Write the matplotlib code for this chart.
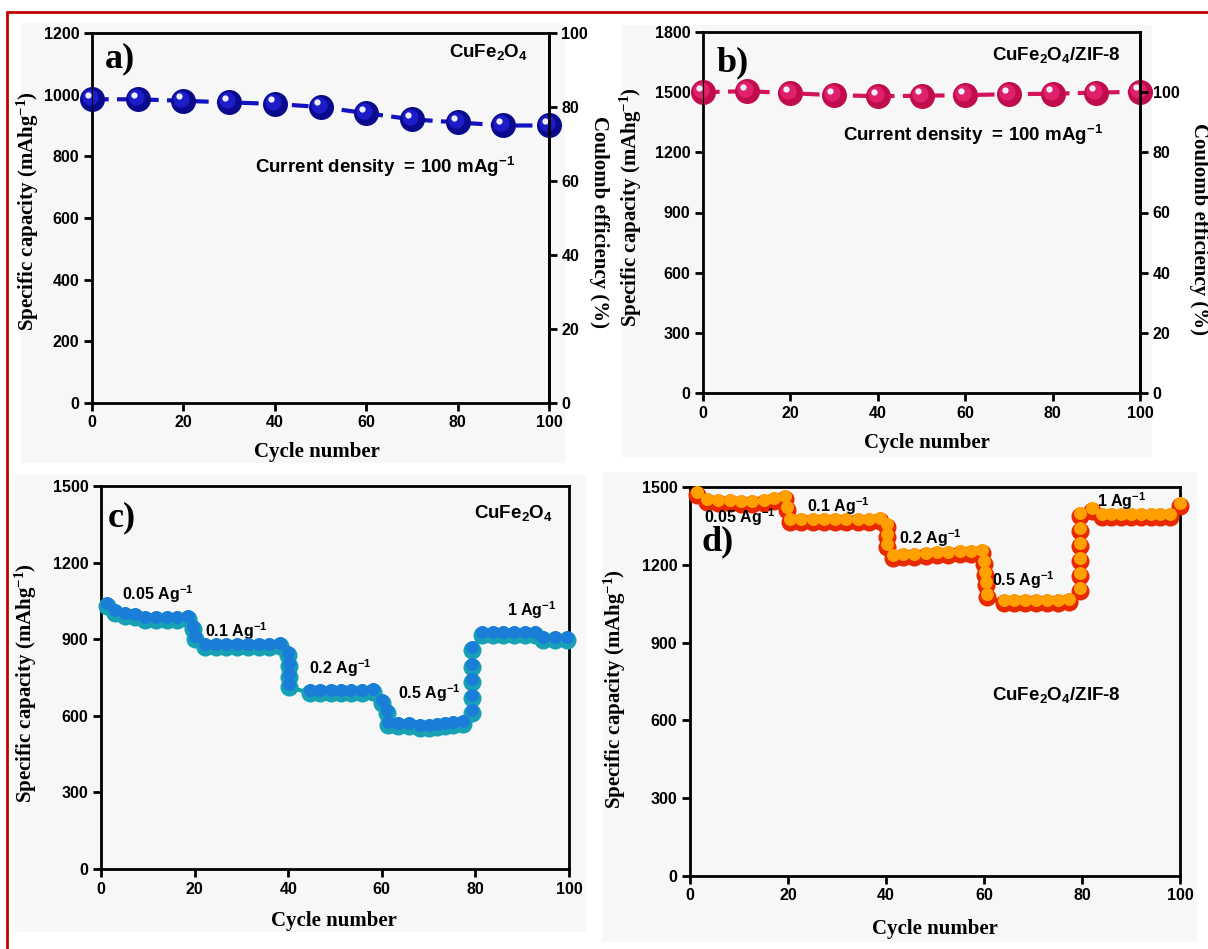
import matplotlib
matplotlib.use("Agg")
from matplotlib import pyplot as plt
from matplotlib import transforms
from matplotlib.patches import Rectangle

plt.rcParams['font.family'] = ['Liberation Sans', 'DejaVu Sans']
plt.rcParams['font.weight'] = 'bold'
plt.rcParams['mathtext.default'] = 'regular'

# ---- data ----
cyc_a = [0, 10, 20, 30, 40, 50, 60, 70, 80, 90, 100]
cap_a = [985, 985, 980, 975, 970, 960, 940, 920, 910, 900, 900]

cyc_b = [0, 10, 20, 30, 40, 50, 60, 70, 80, 90, 100]
cap_b = [1500, 1505, 1495, 1485, 1480, 1482, 1485, 1490, 1492, 1498, 1502]

cyc_c = [1.3, 3, 5.1, 7.3, 9.4, 11.7, 14, 16.3, 18.6, 19.7, 20.1,
         22.2, 24.5, 26.8, 29.1, 31.4, 33.7, 36, 38.2, 40, 40.1, 40.1, 40.1,
         44.7, 46.9, 49.1, 51.3, 53.5, 55.8, 58.1, 60, 61.1,
         61.3, 63.5, 65.8, 68.2, 70, 71.8, 73.5, 75.2, 77.4,
         79.3, 79.3, 79.3, 79.3, 79.3,
         81.4, 83.7, 86, 88.2, 90.5, 92.8, 94.4, 97, 99.6]
cap_c = [1030, 1002, 991, 987, 975, 975, 975, 975, 978, 940, 901,
         869, 869, 869, 869, 869, 869, 870, 872, 838, 795, 752, 713,
         689, 690, 690, 690, 690, 690, 692, 650, 611,
         564, 562, 560, 552, 553, 556, 560, 564, 568,
         611, 670, 732, 791, 858,
         916, 916, 916, 916, 916, 916, 897, 897, 897]

cyc_d = [1.4, 3.5, 5.8, 8.1, 10.4, 12.7, 15, 17.2, 19.4, 19.8, 20.4,
         22.7, 25, 27.3, 29.6, 31.9, 34.2, 36.5, 38.8, 40.2, 40.2, 40.2, 41.4,
         43.5, 45.8, 48.1, 50.4, 52.7, 55, 57.3, 59.6, 60, 60.2, 60.4, 60.6,
         64, 66.2, 68.4, 70.6, 72.8, 75, 77.3,
         79.6, 79.6, 79.6, 79.6, 79.6, 79.6,
         82, 84, 86, 88, 90, 92, 94, 96, 98, 100]
cap_d = [1469, 1442, 1440, 1438, 1435, 1435, 1440, 1445, 1454, 1411, 1365,
         1365, 1365, 1365, 1365, 1365, 1365, 1365, 1368, 1346, 1307, 1269, 1226,
         1230, 1232, 1234, 1236, 1238, 1240, 1242, 1245, 1203, 1161, 1122, 1076,
         1053, 1053, 1053, 1053, 1053, 1053, 1055,
         1099, 1157, 1215, 1272, 1330, 1388,
         1407, 1384, 1384, 1384, 1384, 1384, 1384, 1384, 1384, 1427]

rates = ['0.05', '0.1', '0.2', '0.5', '1']
rate_pos_c = [(12.2, 1077), (29, 932), (51.2, 787), (70.2, 689), (92, 1014)]
rate_pos_d = [(10.2, 1384), (30.3, 1427), (49.1, 1303), (68, 1141), (88, 1446)]

SERIF = ['Liberation Serif', 'DejaVu Serif']

fig = plt.figure(figsize=(12.08, 9.49), dpi=100)
W, H = 1208, 949


def px_rect(x0, y0, x1, y1):
    return [x0 / W, 1 - y1 / H, (x1 - x0) / W, (y1 - y0) / H]


# light gray panel backgrounds
for x0, y0, x1, y1 in [(21, 23, 565, 463), (622, 25, 1152, 457),
                       (15, 475, 586, 932), (602, 472, 1197, 942)]:
    r = px_rect(x0, y0, x1, y1)
    fig.patches.append(Rectangle((r[0], r[1]), r[2], r[3], transform=fig.transFigure,
                                 facecolor='#f7f7f7', edgecolor='none', zorder=-5))
# red frame
fig.patches.append(Rectangle((7.5 / W, -0.01), 1.02, 1 - 11.5 / H + 0.01,
                             transform=fig.transFigure, facecolor='none',
                             edgecolor='#c40000', linewidth=2, zorder=10))


def style(ax, xlab_pos, ylab_pos):
    for s in ax.spines.values():
        s.set_linewidth(2)
    ax.tick_params(direction='out', length=6, width=2, labelsize=11.5, pad=3,
                   top=False, right=False)
    for t in ax.get_xticklabels() + ax.get_yticklabels():
        t.set_fontweight('bold')
    ax.set_xlabel('Cycle number', family=SERIF, fontsize=15, fontweight='bold')
    ax.set_ylabel('Specific capacity (mAhg$^{-1}$)', family=SERIF, fontsize=15,
                  fontweight='bold')
    ax.xaxis.set_label_coords(*xlab_pos)
    ax.xaxis.label.set_va('top')
    ax.yaxis.set_label_coords(*ylab_pos)
    ax.set_facecolor('none')


def spheres(ax, x, y, dark, mid, ms, line_color):
    ax.plot(x, y, '--', color=line_color, lw=3,
            dashes=(4, 2), zorder=2, clip_on=False)
    ax.plot(x, y, 'o', color=dark, ms=ms, mec='none', zorder=3, clip_on=False)
    off = transforms.offset_copy(ax.transData, fig=fig, x=-2, y=2, units='dots')
    ax.plot(x, y, 'o', color=mid, ms=ms * 0.65, mec='none', zorder=4,
            clip_on=False, transform=off)
    off2 = transforms.offset_copy(ax.transData, fig=fig, x=-4, y=4.5, units='dots')
    ax.plot(x, y, 'o', color='#eef0ff', ms=ms * 0.25, mec='none', zorder=5,
            clip_on=False, transform=off2)


def rate_marks(ax, x, y, bottom, top, ms):
    ax.plot(x, y, '-', color=bottom, lw=3, zorder=2, clip_on=False)
    ax.plot(x, y, 'o', color=bottom, ms=ms, mec='none', zorder=3, clip_on=False)
    off = transforms.offset_copy(ax.transData, fig=fig, x=0, y=3, units='dots')
    ax.plot(x, y, 'o', color=top, ms=ms * 0.72, mec='none', zorder=4,
            clip_on=False, transform=off)


# ---- panel a ----
axa = fig.add_axes(px_rect(92, 33, 549, 403))
spheres(axa, cyc_a, cap_a, '#0a0a8c', '#1c1cc8', 18, '#1212c0')
axa.set_xlim(0, 100)
axa.set_ylim(0, 1200)
axa.set_xticks(range(0, 101, 20))
axa.set_yticks(range(0, 1201, 200))
style(axa, (0.492, -0.105), (-0.112, 0.519))
axa.text(0.028, 0.93, 'a)', transform=axa.transAxes, family=SERIF, fontsize=26,
         fontweight='bold', va='center', ha='left')
axa.text(0.954, 0.949, 'CuFe$_2$O$_4$', transform=axa.transAxes, fontsize=13.5,
         fontweight='bold', ha='right', va='center')
axa.text(0.357, 0.638, 'Current density  = 100 mAg$^{-1}$', transform=axa.transAxes,
         fontsize=13.5, fontweight='bold', ha='left', va='center')
axa2 = axa.twinx()
axa2.set_ylim(0, 100)
axa2.set_yticks(range(0, 101, 20))
axa2.tick_params(direction='out', length=6, width=2, labelsize=11.5, pad=3)
for t in axa2.get_yticklabels():
    t.set_fontweight('bold')
axa2.spines['right'].set_linewidth(2)
axa.text(1.109, 0.489, 'Coulomb efficiency (%)', transform=axa.transAxes,
         family=SERIF, fontsize=15, fontweight='bold', rotation=270,
         ha='center', va='center')

# ---- panel b ----
axb = fig.add_axes(px_rect(703, 32, 1140, 393))
spheres(axb, cyc_b, cap_b, '#c00c4c', '#e0206a', 18, '#d4145a')
axb.set_xlim(0, 100)
axb.set_ylim(0, 1800)
axb.set_xticks(range(0, 101, 20))
axb.set_yticks(range(0, 1801, 300))
style(axb, (0.513, -0.11), (-0.135, 0.515))
axb.text(0.03, 0.914, 'b)', transform=axb.transAxes, family=SERIF, fontsize=26,
         fontweight='bold', va='center', ha='left')
axb.text(0.957, 0.936, 'CuFe$_2$O$_4$/ZIF-8', transform=axb.transAxes, fontsize=13.5,
         fontweight='bold', ha='right', va='center')
axb.text(0.32, 0.715, 'Current density  = 100 mAg$^{-1}$', transform=axb.transAxes,
         fontsize=13.5, fontweight='bold', ha='left', va='center')
axb2 = axb.twinx()
axb2.set_ylim(0, 120)
axb2.set_yticks(range(0, 101, 20))
axb2.tick_params(direction='out', length=6, width=2, labelsize=11.5, pad=3)
for t in axb2.get_yticklabels():
    t.set_fontweight('bold')
axb2.spines['right'].set_linewidth(2)
axb.text(1.135, 0.454, 'Coulomb efficiency (%)', transform=axb.transAxes,
         family=SERIF, fontsize=15, fontweight='bold', rotation=270,
         ha='center', va='center')

# ---- panel c ----
axc = fig.add_axes(px_rect(101, 486, 569, 869))
rate_marks(axc, cyc_c, cap_c, '#18a0b4', '#1a7ed8', 13)
axc.set_xlim(0, 100)
axc.set_ylim(0, 1500)
axc.set_xticks(range(0, 101, 20))
axc.set_yticks(range(0, 1501, 300))
style(axc, (0.498, -0.11), (-0.133, 0.486))
axc.text(0.015, 0.916, 'c)', transform=axc.transAxes, family=SERIF, fontsize=26,
         fontweight='bold', va='center', ha='left')
axc.text(0.966, 0.93, 'CuFe$_2$O$_4$', transform=axc.transAxes, fontsize=13.5,
         fontweight='bold', ha='right', va='center')
for r, (x, y) in zip(rates, rate_pos_c):
    axc.text(x, y, r + ' Ag$^{-1}$', fontsize=11.5, fontweight='bold',
             ha='center', va='center')

# ---- panel d ----
axd = fig.add_axes(px_rect(690, 487, 1180, 876))
rate_marks(axd, cyc_d, cap_d, '#e82800', '#ffa000', 13)
axd.set_xlim(0, 100)
axd.set_ylim(0, 1500)
axd.set_xticks(range(0, 101, 20))
axd.set_yticks(range(0, 1501, 300))
style(axd, (0.5, -0.11), (-0.127, 0.48))
axd.text(0.024, 0.859, 'd)', transform=axd.transAxes, family=SERIF, fontsize=26,
         fontweight='bold', va='center', ha='left')
axd.text(74.7, 698, 'CuFe$_2$O$_4$/ZIF-8', fontsize=13.5, fontweight='bold',
         ha='center', va='center')
for r, (x, y) in zip(rates, rate_pos_d):
    axd.text(x, y, r + ' Ag$^{-1}$', fontsize=11.5, fontweight='bold',
             ha='center', va='center', zorder=6)

fig.savefig('out.png', dpi=100)
